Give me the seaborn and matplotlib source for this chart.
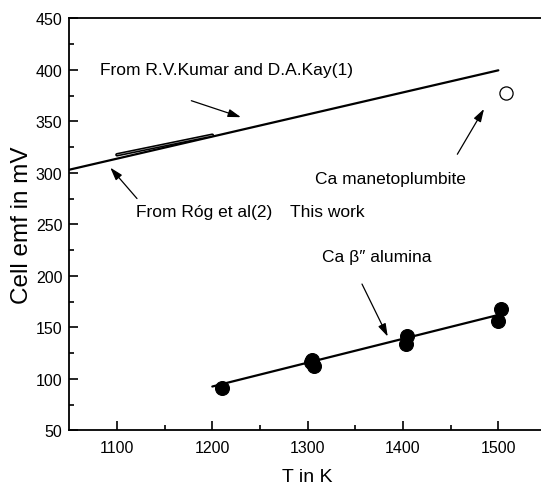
import matplotlib
matplotlib.use("Agg")
import matplotlib.pyplot as plt
import matplotlib.font_manager as fm
import seaborn as sns
import pandas as pd

# Ca beta'' alumina cell measurements (T in K, emf in mV)
alumina_T = [1210, 1303, 1305, 1307, 1403, 1404, 1500, 1503]
alumina_E = [90.8, 116.0, 118.0, 112.8, 133.8, 142.0, 156.4, 167.5]

# linear fit through the alumina data
fit_T = [1200, 1500]
fit_E = [92.5, 162.0]

# Kumar and Kay literature line
kumar_T = [1050, 1500]
kumar_E = [303.0, 399.5]

# Rog et al. literature line
rog_T = [1100, 1200]
rog_E = [317.5, 336.5]

# Ca magnetoplumbite point
mag_T = [1508]
mag_E = [377]

x_ticks = [1100, 1200, 1300, 1400, 1500]
y_ticks = [50, 100, 150, 200, 250, 300, 350, 400, 450]

sns.set_theme(style="ticks")
names = {f.name for f in fm.fontManager.ttflist}
narrow = "Liberation Sans Narrow" if "Liberation Sans Narrow" in names else "Liberation Sans"
plt.rcParams["font.family"] = [narrow, "Liberation Sans", "DejaVu Sans"]
plt.rcParams.update({"text.color": "black", "axes.labelcolor": "black",
                     "xtick.color": "black", "ytick.color": "black"})

fig = plt.figure(figsize=(5.41, 4.85), dpi=100)
ax = fig.add_axes([69.3 / 541, 1 - 431.3 / 485, (546 - 69.3) / 541, (431.3 - 19.3) / 485])

lines = pd.concat([
    pd.DataFrame({"T": kumar_T, "E": kumar_E, "src": "kumar"}),
    pd.DataFrame({"T": fit_T, "E": fit_E, "src": "fit"}),
])
sns.lineplot(data=lines, x="T", y="E", units="src", estimator=None,
             color="black", lw=1.6, ax=ax, legend=False)
# double-stroke Rog et al. segment
sns.lineplot(x=rog_T, y=rog_E, color="black", lw=2.6, ax=ax, legend=False)
sns.lineplot(x=rog_T, y=rog_E, color="white", lw=0.35, alpha=0.8, ax=ax, legend=False)

sns.scatterplot(x=alumina_T, y=alumina_E, s=100, color="black",
                edgecolor="black", ax=ax, legend=False, zorder=5)
sns.scatterplot(x=mag_T, y=mag_E, s=90, facecolor="white",
                edgecolor="black", linewidth=0.9, ax=ax, legend=False, zorder=5)

ax.set_xlim(1050, 1550)
ax.set_ylim(50, 450)
ax.set_xticks(x_ticks)
ax.set_yticks(y_ticks)
ax.set_xticks([1150, 1250, 1350, 1450], minor=True)
ax.set_yticks([75, 125, 175, 225, 275, 325, 375, 425], minor=True)
ax.tick_params(which="both", direction="in", width=1.2, colors="black",
               labelsize=11.5)
ax.tick_params(which="major", length=6.5)
ax.tick_params(which="minor", length=3.6)
ax.tick_params(axis="x", pad=7)
ax.tick_params(axis="y", pad=5)
for s in ax.spines.values():
    s.set_linewidth(1.3)
    s.set_color("black")

ax.set_xlabel("T in K", fontsize=14, labelpad=9)
ax.set_ylabel("Cell emf in mV", fontsize=17.5, labelpad=2)

arrow = dict(arrowstyle="-|>,head_length=0.7,head_width=0.22", color="black",
             lw=0.9, mutation_scale=11, shrinkA=0, shrinkB=0)
fs = 12.5
ax.text(1082, 400, "From R.V.Kumar and D.A.Kay(1)", fontsize=fs, va="center")
ax.annotate("", xy=(1230, 354), xytext=(1178, 370), arrowprops=arrow)
ax.text(1120, 262, "From Róg et al(2)", fontsize=fs, va="center")
ax.annotate("", xy=(1093, 305), xytext=(1121, 275), arrowprops=arrow)
ax.text(1282, 262, "This work", fontsize=fs, va="center")
ax.text(1308, 294, "Ca manetoplumbite", fontsize=fs, va="center")
ax.annotate("", xy=(1485, 362), xytext=(1457, 318), arrowprops=arrow)
ax.text(1315, 219, "Ca β″ alumina", fontsize=fs, va="center")
ax.annotate("", xy=(1384, 141), xytext=(1357, 192), arrowprops=arrow)

fig.savefig("out.png", dpi=100)
